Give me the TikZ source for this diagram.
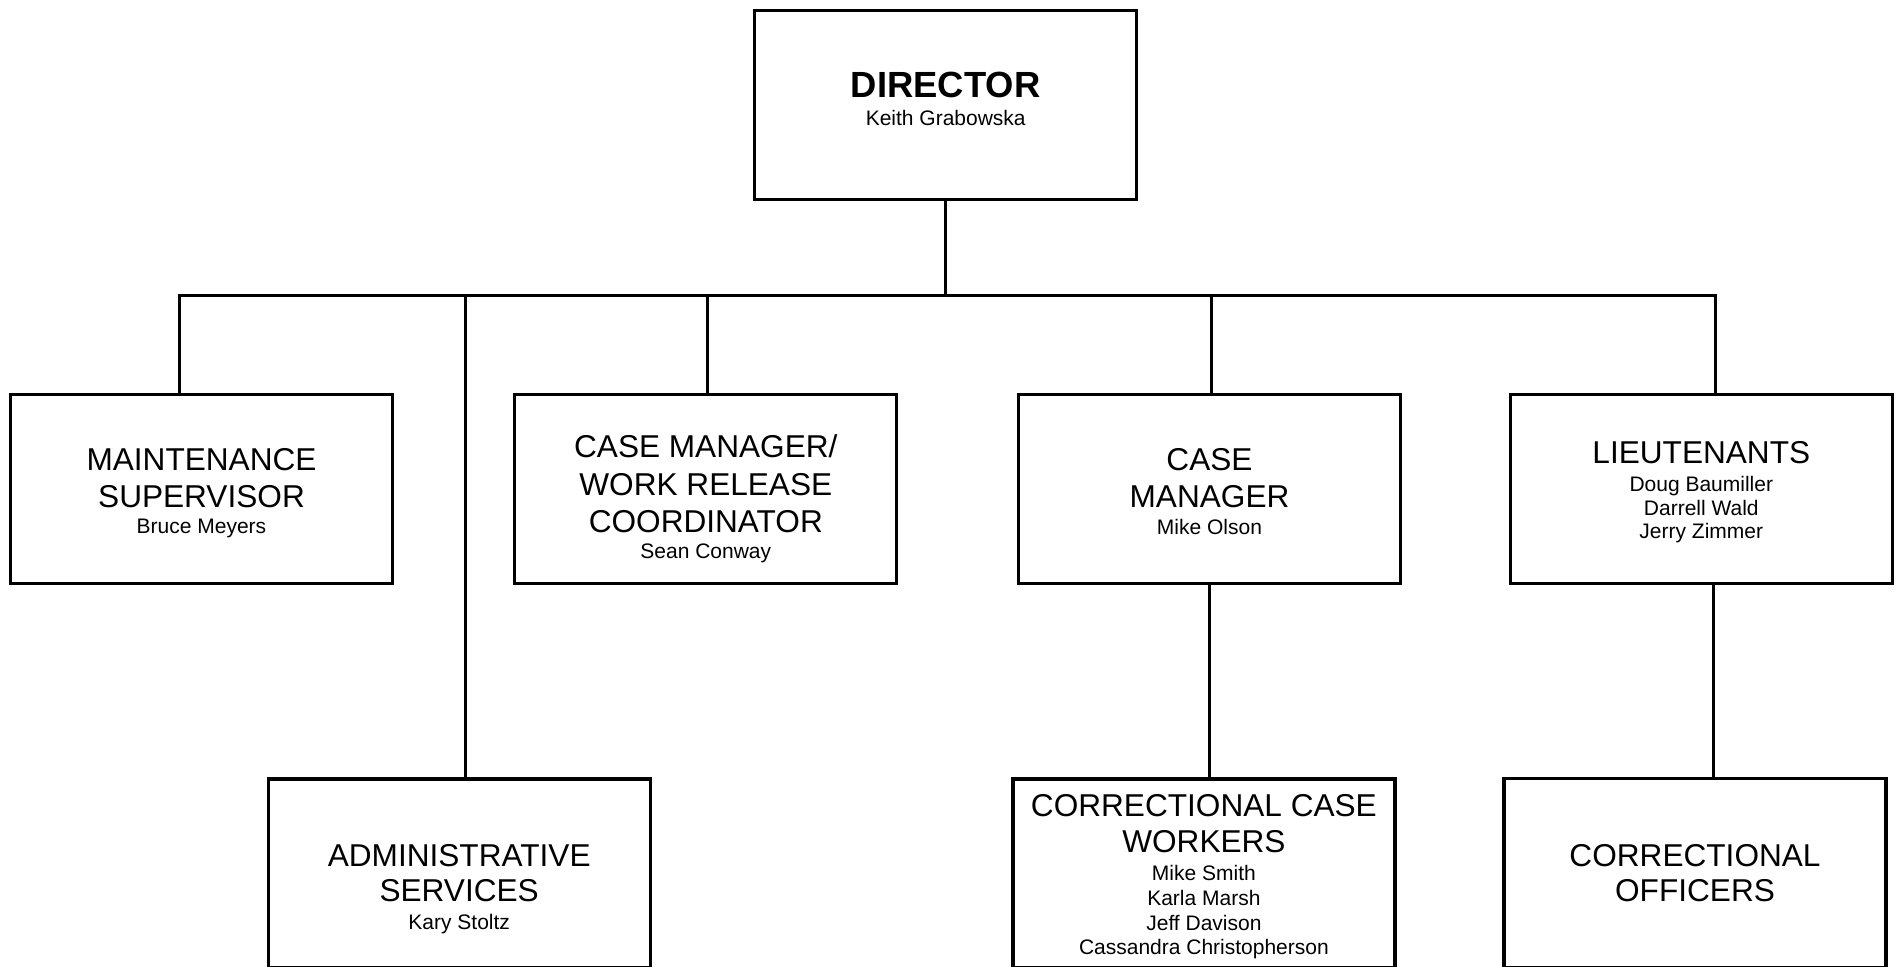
\documentclass[tikz,border=0pt]{standalone}
\usepackage{fontspec}
\setmainfont{Liberation Sans}
\begin{document}
\begin{tikzpicture}[x=0.5pt,y=-0.5pt,
  box/.style={draw, line width=1.65pt, rectangle, minimum width=191pt, minimum height=94.5pt, inner sep=0pt, outer sep=0pt},
  ttl/.style={anchor=base, inner sep=0pt, font=\fontsize{15.8}{19}\selectfont},
  nm/.style={anchor=base, inner sep=0pt, font=\fontsize{10.5}{12.6}\selectfont},
  bold/.style={anchor=base, inner sep=0pt, font=\fontsize{18.2}{22}\selectfont\bfseries},
  conn/.style={line width=1.65pt, line join=miter}]
\useasboundingbox (0,0) rectangle (1900,966);
\clip (0,0) rectangle (1900,966);
\fill[white] (0,0) rectangle (1900,966);

% boxes
\node[box] (dir)   at (945.7,105.3) {};
\node[box] (maint) at (201.5,488.8) {};
\node[box] (cmwr)  at (705.8,488.8) {};
\node[box] (cm)    at (1209.5,488.8) {};
\node[box] (lt)    at (1701.3,488.8) {};
\node[box] (admin) at (459.2,873.5) {};
\node[box] (ccw)   at (1203.9,873.5) {};
\node[box] (co)    at (1695.0,872.8) {};

% bus coordinates
\coordinate (busL) at (179.3,295.5);
\coordinate (busR) at (1715.7,295.5);
\coordinate (dA) at (465.7,295.5);
\coordinate (dC) at (707.3,295.5);
\coordinate (dM) at (1211.7,295.5);
\coordinate (bCM) at (1209.3,583.3);
\coordinate (bLT) at (1713.3,583.3);

% connectors
\draw[conn] (busL |- maint.north) -- (busL) -- (busR) -- (busR |- lt.north);
\draw[conn] (dir.south) -- (dir.south |- busL);
\draw[conn] (dA) -- (dA |- admin.north);
\draw[conn] (dC) -- (dC |- cmwr.north);
\draw[conn] (dM) -- (dM |- cm.north);
\draw[conn] (bCM |- cm.south) -- (bCM |- ccw.north);
\draw[conn] (bLT |- lt.south) -- (bLT |- co.north);

% texts
\node[bold] (t1) at (945.7,97.7) {DIRECTOR};
\node[nm]   (t2) at (945.7,125.5) {Keith Grabowska};

\node[ttl] (m1) at (201.5,470) {MAINTENANCE};
\node[ttl] (m2) at (201.5,507.7) {SUPERVISOR};
\node[nm]  (m3) at (201.5,533.3) {Bruce Meyers};

\node[ttl] (w1) at (705.8,457.5) {CASE MANAGER/};
\node[ttl] (w2) at (705.8,495) {WORK RELEASE};
\node[ttl] (w3) at (705.8,532.5) {COORDINATOR};
\node[nm]  (w4) at (705.8,558.2) {Sean Conway};

\node[ttl] (c1) at (1209.5,470.7) {CASE};
\node[ttl] (c2) at (1209.5,507.7) {MANAGER};
\node[nm]  (c3) at (1209.5,534) {Mike Olson};

\node[ttl] (l1) at (1701.3,463.3) {LIEUTENANTS};
\node[nm]  (l2) at (1701.3,491) {Doug Baumiller};
\node[nm]  (l3) at (1701.3,515) {Darrell Wald};
\node[nm]  (l4) at (1701.3,538.3) {Jerry Zimmer};

\node[ttl] (a1) at (459.2,866) {ADMINISTRATIVE};
\node[ttl] (a2) at (459.2,901.7) {SERVICES};
\node[nm]  (a3) at (459.2,929.3) {Kary Stoltz};

\node[ttl] (k1) at (1203.9,816.7) {CORRECTIONAL CASE};
\node[ttl] (k2) at (1203.9,852.3) {WORKERS};
\node[nm]  (k3) at (1203.9,880.7) {Mike Smith};
\node[nm]  (k4) at (1203.9,905.7) {Karla Marsh};
\node[nm]  (k5) at (1203.9,930) {Jeff Davison};
\node[nm]  (k6) at (1203.9,954.3) {Cassandra Christopherson};

\node[ttl] (o1) at (1695.0,866) {CORRECTIONAL};
\node[ttl] (o2) at (1695.0,901.7) {OFFICERS};
\end{tikzpicture}
\end{document}
